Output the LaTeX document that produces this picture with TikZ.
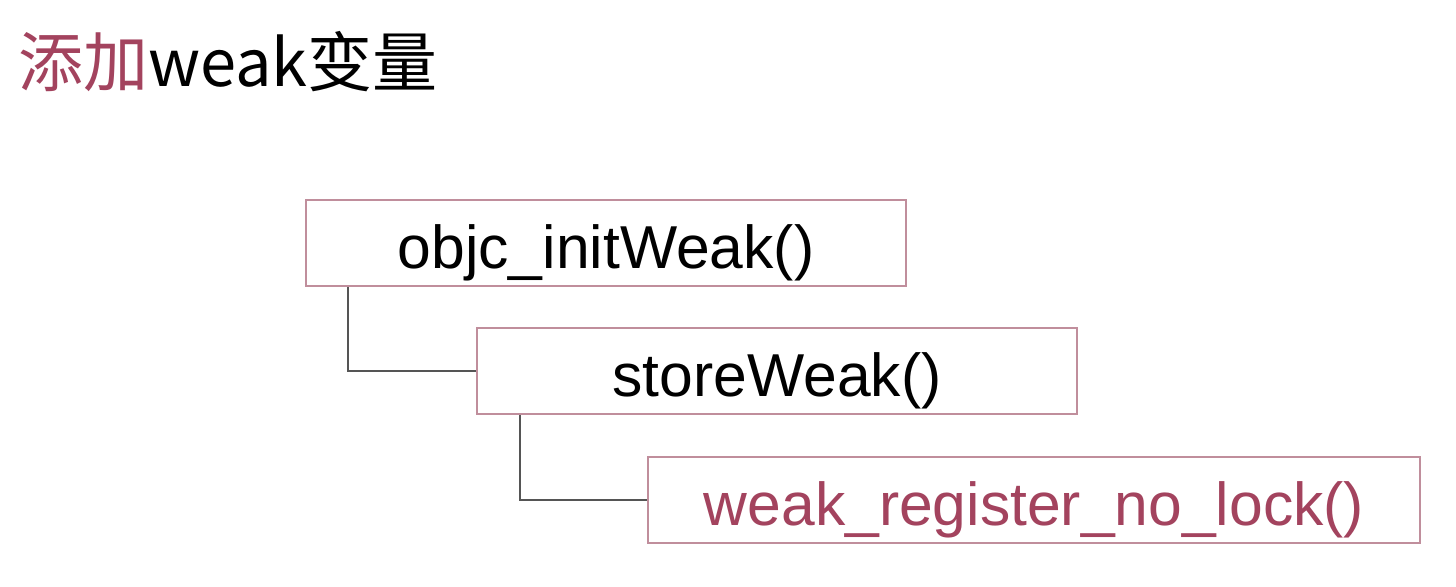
\documentclass[tikz,border=0pt]{standalone}
\usepackage{fontspec}
\setmainfont{Liberation Sans}
\newfontfamily\cjk{Noto Sans CJK SC}
\usetikzlibrary{calc}
\definecolor{accent}{HTML}{A3435E}
\definecolor{boxline}{HTML}{C08E9C}
\definecolor{connline}{HTML}{555555}
\begin{document}
\begin{tikzpicture}[x=0.5pt,y=-0.5pt,
  fnbox/.style={draw=boxline, line width=1pt, minimum height=43pt, inner sep=0pt, text height=25pt, text depth=0pt, font=\fontsize{30.3}{36}\selectfont},
  conn/.style={draw=connline, line width=1.1pt}]
\useasboundingbox[fill=white] (0,0) rectangle (1456,586);
\node[anchor=west, inner sep=0pt, font=\cjk\fontsize{32.5}{38}\selectfont] (title) at (18,62) {\textcolor{accent}{添加}weak变量};
\node[fnbox, minimum width=300pt] (b1) at (606,243) {objc\_initWeak()};
\node[fnbox, minimum width=300pt] (b2) at (777,371) {storeWeak()};
\node[fnbox, minimum width=386pt, text=accent] (b3) at (1034,500) {weak\_register\_no\_lock()};
\draw[conn] ($(b1.south west)+(43,0)$) |- (b2.west);
\draw[conn] ($(b2.south west)+(44,0)$) |- (b3.west);
\end{tikzpicture}
\end{document}
